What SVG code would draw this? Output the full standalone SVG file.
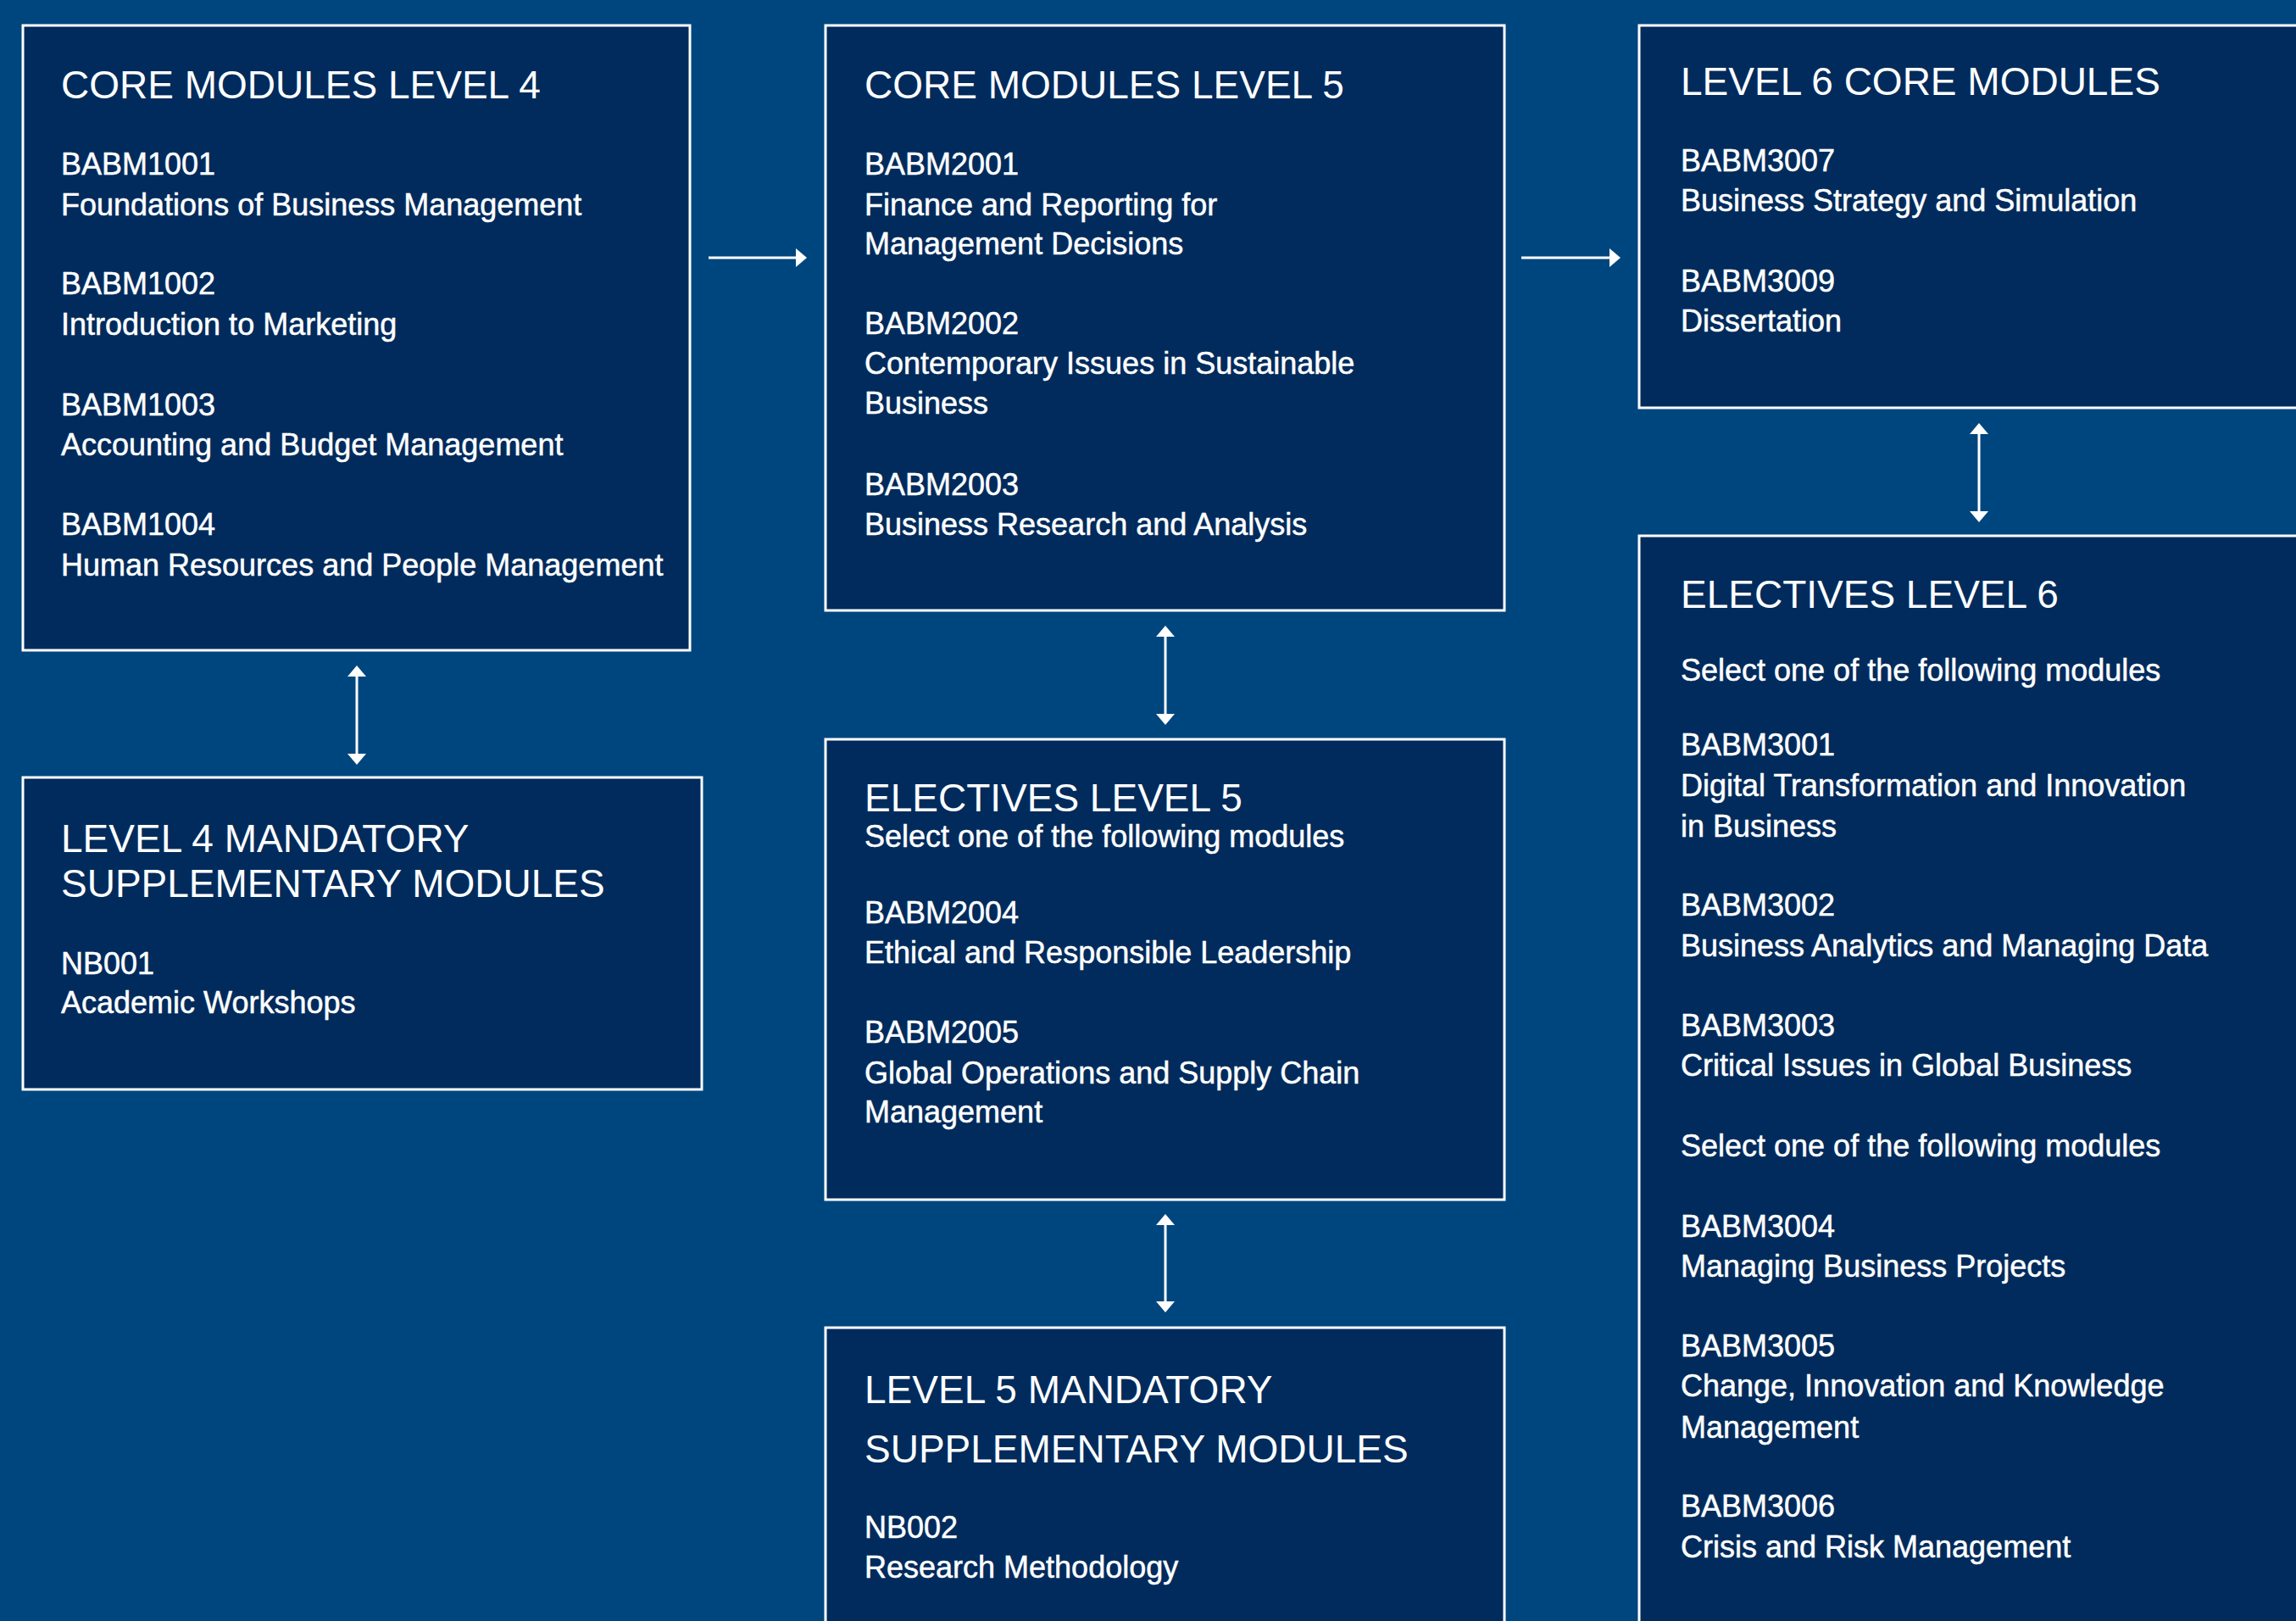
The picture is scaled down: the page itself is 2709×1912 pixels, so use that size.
<svg xmlns="http://www.w3.org/2000/svg" width="2709" height="1912" viewBox="0 0 2709 1912">
<style>
.box{fill:#002b5c;stroke:#ffffff;stroke-width:3}
.t{font-family:"Liberation Sans",Arial,sans-serif;font-size:46px;fill:#ffffff}
.b{font-family:"Liberation Sans",Arial,sans-serif;font-size:36px;fill:#ffffff;stroke:#ffffff;stroke-width:0.5}
.c{fill:none;stroke:#ffffff;stroke-width:3}
</style>
<defs>
<marker id="ah" viewBox="0 0 13 22" refX="6" refY="11" markerWidth="13" markerHeight="22" markerUnits="userSpaceOnUse" orient="auto-start-reverse">
<path d="M0,0 L13,11 L0,22 Z" fill="#ffffff"/>
</marker>
</defs>
<rect x="0" y="0" width="2709" height="1912" fill="#00467e"/>

<g id="core-l4">
<rect class="box" x="27" y="30" width="787" height="737"/>
<text class="t" x="72" y="116">CORE MODULES LEVEL 4</text>
<text class="b" x="72" y="206">BABM1001</text>
<text class="b" x="72" y="254">Foundations of Business Management</text>
<text class="b" x="72" y="347">BABM1002</text>
<text class="b" x="72" y="395">Introduction to Marketing</text>
<text class="b" x="72" y="490">BABM1003</text>
<text class="b" x="72" y="537">Accounting and Budget Management</text>
<text class="b" x="72" y="631">BABM1004</text>
<text class="b" x="72" y="679">Human Resources and People Management</text>
</g>

<g id="core-l5">
<rect class="box" x="974" y="30" width="801" height="690"/>
<text class="t" x="1020" y="116">CORE MODULES LEVEL 5</text>
<text class="b" x="1020" y="206">BABM2001</text>
<text class="b" x="1020" y="254">Finance and Reporting for</text>
<text class="b" x="1020" y="300">Management Decisions</text>
<text class="b" x="1020" y="394">BABM2002</text>
<text class="b" x="1020" y="441">Contemporary Issues in Sustainable</text>
<text class="b" x="1020" y="488">Business</text>
<text class="b" x="1020" y="584">BABM2003</text>
<text class="b" x="1020" y="631">Business Research and Analysis</text>
</g>

<g id="core-l6">
<rect class="box" x="1934" y="30" width="800" height="451"/>
<text class="t" x="1983" y="112">LEVEL 6 CORE MODULES</text>
<text class="b" x="1983" y="202">BABM3007</text>
<text class="b" x="1983" y="249">Business Strategy and Simulation</text>
<text class="b" x="1983" y="344">BABM3009</text>
<text class="b" x="1983" y="391">Dissertation</text>
</g>

<g id="mandatory-l4">
<rect class="box" x="27" y="917" width="801" height="368"/>
<text class="t" x="72" y="1005">LEVEL 4 MANDATORY</text>
<text class="t" x="72" y="1058">SUPPLEMENTARY MODULES</text>
<text class="b" x="72" y="1149">NB001</text>
<text class="b" x="72" y="1195">Academic Workshops</text>
</g>

<g id="electives-l5">
<rect class="box" x="974" y="872" width="801" height="543"/>
<text class="t" x="1020" y="957">ELECTIVES LEVEL 5</text>
<text class="b" x="1020" y="999">Select one of the following modules</text>
<text class="b" x="1020" y="1089">BABM2004</text>
<text class="b" x="1020" y="1136">Ethical and Responsible Leadership</text>
<text class="b" x="1020" y="1230">BABM2005</text>
<text class="b" x="1020" y="1278">Global Operations and Supply Chain</text>
<text class="b" x="1020" y="1324">Management</text>
</g>

<g id="mandatory-l5">
<rect class="box" x="974" y="1566" width="801" height="400"/>
<text class="t" x="1020" y="1655">LEVEL 5 MANDATORY</text>
<text class="t" x="1020" y="1725">SUPPLEMENTARY MODULES</text>
<text class="b" x="1020" y="1814">NB002</text>
<text class="b" x="1020" y="1861">Research Methodology</text>
</g>

<g id="electives-l6">
<rect class="box" x="1934" y="632" width="800" height="1320"/>
<text class="t" x="1983" y="717">ELECTIVES LEVEL 6</text>
<text class="b" x="1983" y="803">Select one of the following modules</text>
<text class="b" x="1983" y="891">BABM3001</text>
<text class="b" x="1983" y="939">Digital Transformation and Innovation</text>
<text class="b" x="1983" y="987">in Business</text>
<text class="b" x="1983" y="1080">BABM3002</text>
<text class="b" x="1983" y="1128">Business Analytics and Managing Data</text>
<text class="b" x="1983" y="1222">BABM3003</text>
<text class="b" x="1983" y="1269">Critical Issues in Global Business</text>
<text class="b" x="1983" y="1364">Select one of the following modules</text>
<text class="b" x="1983" y="1459">BABM3004</text>
<text class="b" x="1983" y="1506">Managing Business Projects</text>
<text class="b" x="1983" y="1600">BABM3005</text>
<text class="b" x="1983" y="1647">Change, Innovation and Knowledge</text>
<text class="b" x="1983" y="1696">Management</text>
<text class="b" x="1983" y="1789">BABM3006</text>
<text class="b" x="1983" y="1837">Crisis and Risk Management</text>
</g>

<g id="connectors">
<line class="c" x1="836" y1="304" x2="945" y2="304" marker-end="url(#ah)"/>
<line class="c" x1="1795" y1="304" x2="1905" y2="304" marker-end="url(#ah)"/>
<line class="c" x1="421" y1="792" x2="421" y2="895" marker-start="url(#ah)" marker-end="url(#ah)"/>
<line class="c" x1="1375" y1="745" x2="1375" y2="848" marker-start="url(#ah)" marker-end="url(#ah)"/>
<line class="c" x1="1375" y1="1439" x2="1375" y2="1541" marker-start="url(#ah)" marker-end="url(#ah)"/>
<line class="c" x1="2335" y1="506" x2="2335" y2="609" marker-start="url(#ah)" marker-end="url(#ah)"/>
</g>
</svg>
